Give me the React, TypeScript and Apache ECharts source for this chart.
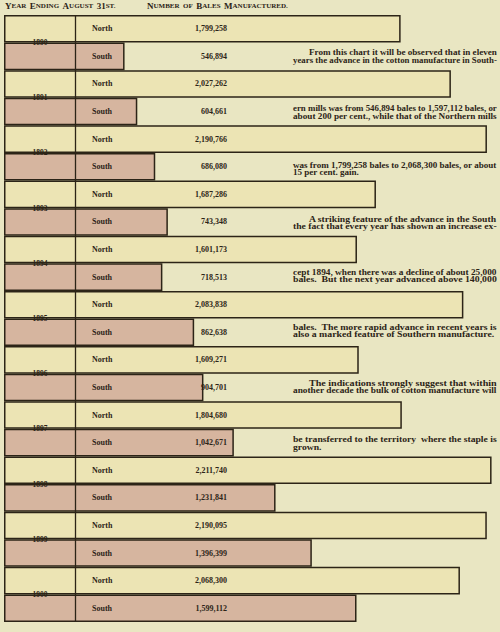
import React, { useEffect, useRef } from "react";
import * as echarts from "echarts";

const years = ["1890", "1891", "1892", "1893", "1894", "1895", "1896", "1897", "1898", "1899", "1900"];
const northBales = [1799258, 2027262, 2190766, 1687286, 1601173, 2083838, 1609271, 1804680, 2211740, 2190095, 2068300];
const southBales = [546894, 604661, 686080, 743348, 718513, 862638, 904701, 1042671, 1231841, 1396399, 1599112];
const regions = ["North", "South"];

const headerLeft = "Year Ending August 31st.";
const headerRight = "Number of Bales Manufactured.";

const noteLines = [
  { text: "From this chart it will be observed that in eleven", indent: true, justify: true, y: 53 },
  { text: "years the advance in the cotton manufacture in South-", indent: false, justify: true, y: 61 },
  { text: "ern mills was from 546,894 bales to 1,597,112 bales, or", indent: false, justify: true, y: 109 },
  { text: "about 200 per cent., while that of the Northern mills", indent: false, justify: true, y: 117 },
  { text: "was from 1,799,258 bales to 2,068,300 bales, or about", indent: false, justify: true, y: 166 },
  { text: "15 per cent. gain.", indent: false, justify: false, y: 173 },
  { text: "A striking feature of the advance in the South", indent: true, justify: true, y: 219 },
  { text: "the fact that every year has shown an increase ex-", indent: false, justify: true, y: 226 },
  { text: "cept 1894, when there was a decline of about 25,000", indent: false, justify: true, y: 272 },
  { text: "bales.  But the next year advanced above 140,000", indent: false, justify: true, y: 279 },
  { text: "bales.  The more rapid advance in recent years is", indent: false, justify: true, y: 327 },
  { text: "also a marked feature of Southern manufacture.", indent: false, justify: false, y: 334 },
  { text: "The indications strongly suggest that within", indent: true, justify: true, y: 383 },
  { text: "another decade the bulk of cotton manufacture will", indent: false, justify: true, y: 390 },
  { text: "be transferred to the territory  where the staple is", indent: false, justify: true, y: 439 },
  { text: "grown.", indent: false, justify: false, y: 447 },
];

const PAPER = "#e9e6c2";
const NORTH = "#ece4b4";
const SOUTH = "#d6b59f";
const INK = "#2c2417";
const SERIF = '"Liberation Serif", "DejaVu Serif", serif';

function smallCaps(s: string) {
  return s
    .split(" ")
    .map((w) => {
      let i = 0;
      while (i < w.length && /[A-Z0-9]/.test(w[i])) i++;
      const big = w.slice(0, i);
      const small = w.slice(i).toUpperCase();
      return (big ? `{b|${big}}` : "") + (small ? `{s|${small}}` : "");
    })
    .join("{s|  }");
}

export default function App() {
  const ref = useRef<HTMLDivElement>(null);
  useEffect(() => {
    document.body.style.margin = "0";
    const chart = echarts.init(ref.current!, null, { renderer: "svg" });

    const rows: string[] = [];
    const barData: any[] = [];
    years.forEach((y, i) => {
      [northBales[i], southBales[i]].forEach((v, r) => {
        const name = `${y} ${regions[r]}`;
        rows.push(name);
        barData.push({
          name,
          value: v,
          region: regions[r],
          itemStyle: { color: r === 0 ? NORTH : SOUTH },
        });
      });
    });

    const canvas = document.createElement("canvas");
    const ctx = canvas.getContext("2d")!;
    const noteFont = `bold 7.5px ${SERIF}`;
    ctx.font = noteFont;
    const RIGHT = 497;
    let lastScale = 1.1;
    const noteGraphics = noteLines.map((l) => {
      const x0 = l.indent ? 309 : 293;
      const w = ctx.measureText(l.text).width || 1;
      let scale = lastScale;
      if (l.justify) {
        scale = (RIGHT - x0) / w;
        lastScale = scale;
      }
      return {
        type: "text",
        x: x0,
        y: l.y,
        scaleX: scale,
        z: 50,
        style: {
          text: l.text,
          font: noteFont,
          fill: INK,
          textVerticalAlign: "middle",
          textAlign: "left",
        },
      };
    });

    const headerRich = {
      b: { fontFamily: SERIF, fontSize: 9, fontWeight: "bold", fill: INK },
      s: { fontFamily: SERIF, fontSize: 7, fontWeight: "bold", fill: INK },
    };

    const option: any = {
      animation: false,
      backgroundColor: PAPER,
      grid: { left: 4, right: 0, top: 15, bottom: 10, containLabel: false },
      xAxis: { type: "value", min: 0, max: 2250000, show: false },
      yAxis: [
        { type: "category", data: rows, inverse: true, show: false },
        {
          type: "category",
          data: years,
          inverse: true,
          position: "left",
          axisLine: { show: false },
          axisTick: { show: false },
          splitLine: { show: false },
          z: 60,
          axisLabel: {
            inside: true,
            margin: 36,
            align: "center",
            fontFamily: SERIF,
            fontSize: 7.5,
            fontWeight: "bold",
            color: INK,
          },
        },
      ],
      series: [
        {
          type: "bar",
          yAxisIndex: 0,
          data: barData,
          barCategoryGap: "0%",
          itemStyle: { borderColor: INK, borderWidth: 1.5 },
          label: {
            show: true,
            position: [88, "50%"],
            align: "left",
            verticalAlign: "middle",
            formatter: (p: any) => `{n|${p.data.region}}{v|${p.value.toLocaleString("en-US")}}`,
            rich: {
              n: { width: 70, fontFamily: SERIF, fontSize: 8, fontWeight: "bold", color: INK },
              v: { width: 65, align: "right", fontFamily: SERIF, fontSize: 8, fontWeight: "bold", color: INK },
            },
          },
        },
      ],
      graphic: [
        {
          type: "line",
          z: 40,
          shape: { x1: 75.5, y1: 15, x2: 75.5, y2: 622 },
          style: { stroke: INK, lineWidth: 1.3 },
        },
        {
          type: "text",
          x: 5,
          y: 6,
          style: { text: smallCaps(headerLeft), textVerticalAlign: "middle", fill: INK, rich: headerRich },
        },
        {
          type: "text",
          x: 147,
          y: 6,
          style: { text: smallCaps(headerRight), textVerticalAlign: "middle", fill: INK, rich: headerRich },
        },
        ...noteGraphics,
      ],
    };
    chart.setOption(option);
    return () => chart.dispose();
  }, []);
  return <div ref={ref} style={{ width: 500, height: 632, background: PAPER }} />;
}
